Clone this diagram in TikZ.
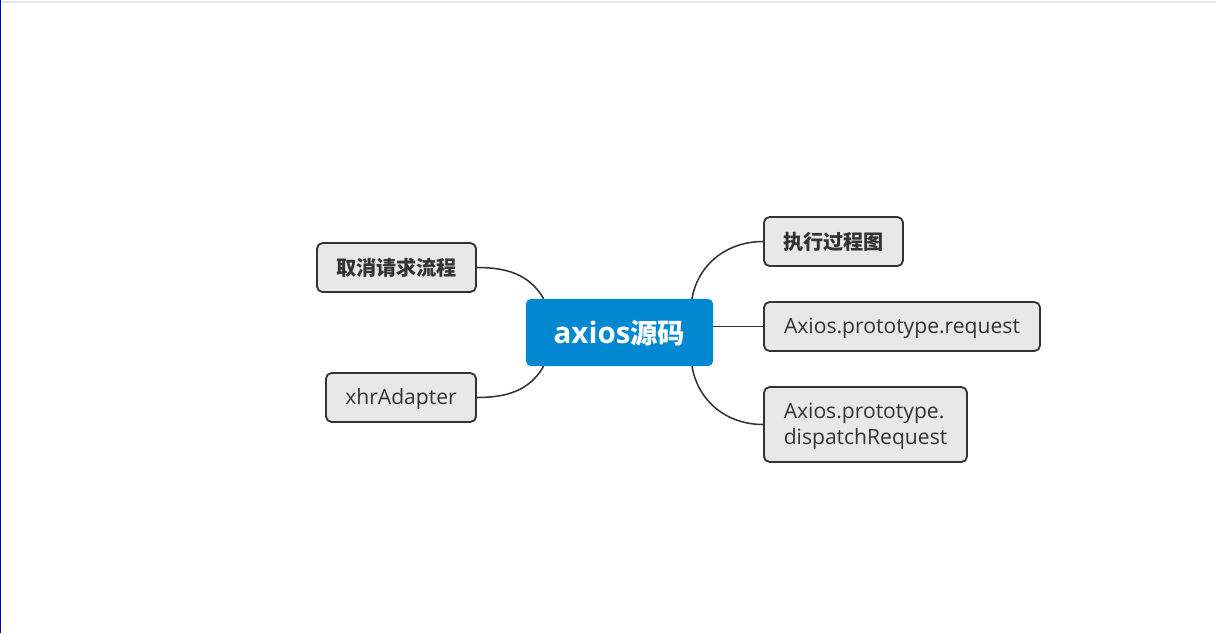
\documentclass[tikz,border=0pt]{standalone}
\usepackage{fontspec}
\setmainfont{Open Sans}
\newfontfamily\cjk{Noto Sans CJK SC}
\newcommand{\zh}[2][14.3]{{\cjk\bfseries\fontsize{#1}{18}\selectfont #2}}
\definecolor{rootblue}{HTML}{0288D1}
\definecolor{topicgray}{HTML}{E8E8E8}
\definecolor{inkgray}{HTML}{333333}
\begin{document}
\begin{tikzpicture}[x=0.025cm, y=0.025cm]
    \tikzstyle{topic}=[rectangle, rounded corners=4pt, fill=topicgray, draw=inkgray, line width=1.3pt, text=inkgray, inner xsep=0.45cm, minimum height=1.225cm, text depth=1.5pt, font=\fontsize{15}{18.5}\selectfont]
    \tikzstyle{root}=[rectangle, rounded corners=3.5pt, fill=rootblue, text=white, minimum width=4.675cm, minimum height=1.675cm, text depth=1pt, font=\fontsize{21}{24}\selectfont\bfseries]
    \tikzstyle{branch}=[inkgray, line width=1.1pt]

    \useasboundingbox (0,0) rectangle (1216,-633);
    \draw[gray!20, line width=1pt] (0,-2) -- (1216,-2);
    \draw[blue!80!black, line width=0.8pt] (0.5,0) -- (0.5,-633);

    \node[root] (axios) at (619.5,-332.5) {axios\zh[19.5]{源码}};

    \node[topic, minimum width=3.975cm] (cancel) at (396.5,-267.5) {\zh{取消请求流程}};
    \node[topic, minimum width=3.75cm] (xhr) at (401,-397.5) {xhrAdapter};
    \node[topic, minimum width=3.475cm] (exec) at (833.5,-241.5) {\zh{执行过程图}};
    \node[topic, minimum width=6.9cm] (request) at (902,-326.5) {Axios.prototype.request};
    \node[topic, minimum width=5.075cm, minimum height=1.875cm, align=left] (dispatch) at (865.5,-424.5) {Axios.prototype.\\dispatchRequest};

    \draw[branch] (axios.156) to[out=120, in=0] (cancel.east);
    \draw[branch] (axios.204) to[out=-120, in=0] (xhr.east);
    \draw[branch] (axios.25) to[out=80, in=180] (exec.west);
    \draw[branch] (axios.east |- request.west) -- (request.west);
    \draw[branch] (axios.335) to[out=-80, in=180] (dispatch.west);
\end{tikzpicture}
\end{document}
